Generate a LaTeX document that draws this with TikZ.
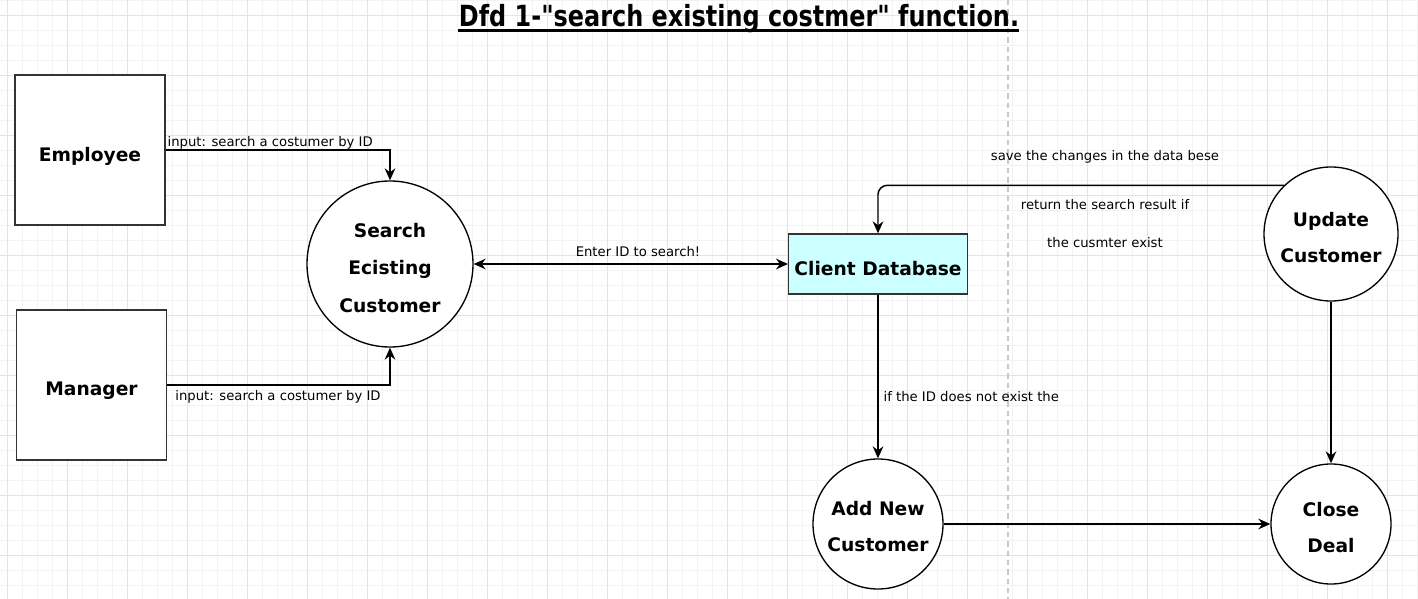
\documentclass[tikz,border=0pt]{standalone}
\usepackage{fontspec}
\setmainfont{DejaVu Sans}
\usetikzlibrary{arrows.meta}
\definecolor{gridminor}{HTML}{F3F3F3}
\definecolor{gridmajor}{HTML}{E4E4E4}
\definecolor{dbfill}{HTML}{CCFFFF}
\definecolor{pagebreak}{HTML}{C8C8C8}
\tikzset{
  box/.style={draw=black!80, line width=1.1pt, fill=white, minimum width=112.5pt, minimum height=112.5pt},
  proc/.style={draw=black, line width=1pt, fill=white, circle, inner sep=0pt},
  store/.style={draw=black!80, line width=1pt, fill=dbfill, minimum width=134pt, minimum height=45pt, inner sep=2pt},
  txt/.style={align=center, inner sep=0pt, font=\fontsize{14}{27}\selectfont\bfseries},
  flow/.style={line width=1.1pt, -{Stealth[length=9pt,width=8pt,inset=3pt]}},
  biflow/.style={line width=1.1pt, {Stealth[length=9pt,width=8pt,inset=3pt]}-{Stealth[length=9pt,width=8pt,inset=3pt]}},
  lbl/.style={font=\fontsize{9.9}{11}\selectfont, inner sep=1pt},
}
\begin{document}
\begin{tikzpicture}[x=0.75pt,y=-0.75pt]
\useasboundingbox (0,0) rectangle (1418,599);
\fill[white] (0,0) rectangle (1418,599);
% grid
\foreach \i in {0,...,95} {
  \pgfmathsetmacro{\gx}{7+15*(\i-1)}
  \draw[gridminor, line width=0.6pt] (\gx,0) -- (\gx,599);
}
\foreach \i in {0,...,40} {
  \pgfmathsetmacro{\gy}{15*\i}
  \draw[gridminor, line width=0.6pt] (0,\gy) -- (1418,\gy);
}
\foreach \i in {0,...,24} {
  \pgfmathsetmacro{\gx}{7+60*\i}
  \draw[gridmajor, line width=0.7pt] (\gx,0) -- (\gx,599);
}
\foreach \i in {0,...,10} {
  \pgfmathsetmacro{\gy}{15+60*\i}
  \draw[gridmajor, line width=0.7pt] (0,\gy) -- (1418,\gy);
}
\draw[pagebreak, line width=1pt, dash pattern=on 4pt off 3pt] (1008,0) -- (1008,599);

% title
\node[inner sep=0pt] (title) at (739,19) {\scalebox{0.945}[1.15]{\fontsize{19}{22}\selectfont\bfseries Dfd 1-\textquotedbl search existing costmer\textquotedbl{} function.}};
\draw[line width=1.6pt] (458,30.5) -- (1019,30.5);

% entities
\node[box, label={[txt, yshift=-5pt]center:Employee}] (emp) at (90,150) {};
\node[box, label={[txt, yshift=-4.5pt]center:Manager}] (man) at (91.5,385) {};

% processes
\node[proc, minimum size=124.5pt, label={[txt, font=\fontsize{14}{28}\selectfont\bfseries, yshift=-3pt]center:Search\\Ecisting\\Customer}] (search) at (390,264) {};
\node[store, label={[txt, yshift=-3.75pt]center:Client Database}] (db) at (878,264) {};
\node[proc, minimum size=100.5pt, label={[txt, yshift=-2.5pt]center:Update\\Customer}] (upd) at (1331,234) {};
\node[proc, minimum size=97.5pt, label={[txt, yshift=-1.8pt]center:Add New\\Customer}] (add) at (878,524) {};
\node[proc, minimum size=90pt, label={[txt, yshift=-2.3pt]center:Close\\Deal}] (close) at (1331,524) {};

% flows
\draw[flow] (emp.east) -| (search.north);
\node[lbl, anchor=south west] (l1) at (166,151) {input: search a costumer by ID};
\draw[flow] (man.east) -| (search.south);
\node[lbl] (l2) at (278,397) {input: search a costumer by ID};
\draw[biflow] (search.east) -- (db.west);
\node[lbl] (l3) at (638,252) {Enter ID to search!};
\draw[flow, rounded corners=7pt] (upd.134) -| (db.north);
\node[lbl] (l4) at (1105,157) {save the changes in the data bese};
\node[lbl] (l5) at (1105,205) {return the search result if};
\node[lbl] (l6) at (1105,243) {the cusmter exist};
\draw[flow] (db.south) -- (add.north);
\node[lbl, anchor=west] (l7) at (882,397) {if the ID does not exist the};
\draw[flow] (add.east) -- (close.west);
\draw[flow] (upd.south) -- (close.north);
\end{tikzpicture}
\end{document}
